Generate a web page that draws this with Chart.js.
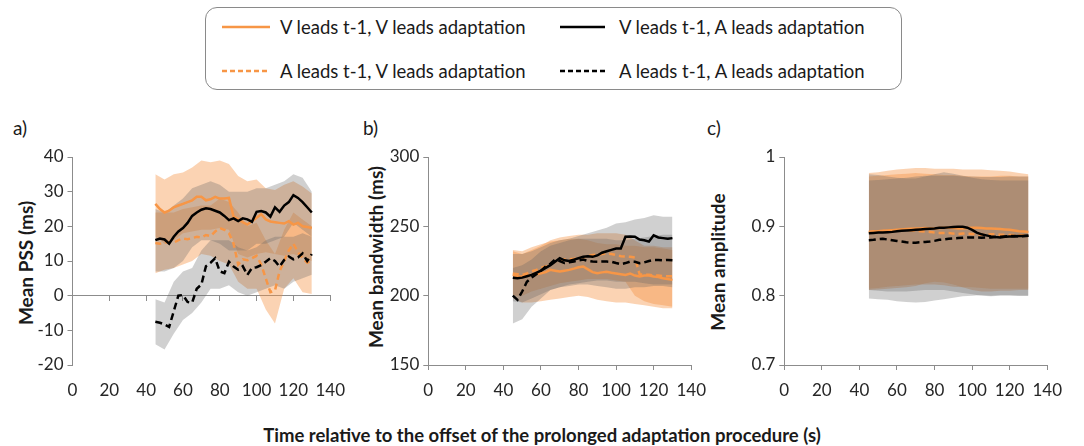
<!DOCTYPE html>
<html><head><meta charset="utf-8">
<script src="https://cdn.jsdelivr.net/npm/chart.js@4.4.1/dist/chart.umd.min.js"></script>
<style>
html,body{margin:0;padding:0;background:#fff;}
body{width:1084px;height:446px;position:relative;overflow:hidden;font-family:Lato,"Open Sans",sans-serif;color:#1a1a1a;}
canvas{position:absolute;}
.plab{position:absolute;font-size:19px;line-height:20px;}
.ytitle{position:absolute;font-weight:bold;font-size:19px;white-space:nowrap;transform:translate(-50%,-50%) rotate(-90deg);}
.xtitle{position:absolute;left:0;width:1084px;text-align:center;font-weight:bold;font-size:18.5px;top:424px;}
.legbox{position:absolute;left:205px;top:7px;width:695px;height:81px;border:1px solid #8a8a8a;border-radius:12px;}
.legtxt{position:absolute;font-size:18.5px;line-height:22px;white-space:nowrap;}
.legsvg{position:absolute;}
</style>
</head><body>
<div class="legbox"></div>
<svg class="legsvg" style="left:0;top:0" width="1084" height="100" id="legsvg"></svg>
<div class="legtxt" id="lt0" style="left:280px;top:16px"></div>
<div class="legtxt" id="lt1" style="left:619px;top:16px"></div>
<div class="legtxt" id="lt2" style="left:280px;top:60px"></div>
<div class="legtxt" id="lt3" style="left:619px;top:60px"></div>

<div class="plab" style="left:13px;top:118px">a)</div>
<div class="plab" style="left:363px;top:118px">b)</div>
<div class="plab" style="left:707px;top:118px">c)</div>

<div class="ytitle" style="left:25px;top:263px">Mean PSS (ms)</div>
<div class="ytitle" style="left:375px;top:257px">Mean bandwidth (ms)</div>
<div class="ytitle" style="left:717px;top:262px">Mean amplitude</div>
<div class="xtitle">Time relative to the offset of the prolonged adaptation procedure (s)</div>

<canvas id="ca" width="360" height="262" style="left:0;top:140px"></canvas>
<canvas id="cb" width="366" height="262" style="left:350px;top:140px"></canvas>
<canvas id="cc" width="366" height="262" style="left:706px;top:140px"></canvas>

<script>
// ---- series names ----
const seriesNames = [
  "V leads t-1, V leads adaptation",
  "V leads t-1, A leads adaptation",
  "A leads t-1, V leads adaptation",
  "A leads t-1, A leads adaptation"
];
// ---- x positions (s) ----
const tMean = [45,47.5,50,52.5,55,57.5,60,62.5,65,67.5,70,72.5,75,77.5,80,82.5,85,87.5,90,92.5,95,97.5,100,102.5,105,107.5,110,112.5,115,117.5,120,122.5,125,127.5,130];
const tBand = [45,50,55,60,65,70,75,80,85,90,95,100,105,110,115,120,125,130];
const xTicks = [0,20,40,60,80,100,120,140];

// ---- panel a: Mean PSS (ms) ----
const aVV = [26.5,25,24,24.5,25.5,26,26.5,27,27.5,28.5,28.5,27.5,27.8,28.5,28,28,28.2,22.8,22,21.2,20.5,21.5,22.5,23.5,22,21.4,21.2,21,20.8,21.5,20.5,21,20,19.8,19.5];
const aVA = [16,16.5,16.2,15,17,18.5,19.5,21,23,24,24.8,25.2,25,24.5,24,23,21.8,22.3,21.5,22.3,22,21.3,24.2,24.4,24,22.8,25.5,24.2,26,27,29,28.2,27,25.5,24];
const aAV = [15.2,15,15.3,15.5,15.3,16,16.5,16.3,16.6,17,16.8,17.5,17.2,18.5,19.5,19,18,15,9,10.5,10.2,10.8,11.5,9,5,1,1.5,7,10,13,15,12.5,10.8,9.5,10.3];
const aAA = [-7.5,-7.8,-8.3,-9,-4.5,0,0.2,-1.8,-2,2,3.2,8.5,9.5,10.8,7,6.5,9.8,8.4,7.5,8.5,6,8,8.2,8.8,9.8,10.8,10,8.4,10.3,11.3,10.5,11,12.2,10,12];
const aVV_hi = [35,33.5,35,35.5,37,39,38.5,39,38,34.5,33,33.5,31,30.5,32,33,31.5,29.5];
const aVV_lo = [17,15,16,18,18.5,19,19,19.5,19,12,11,12,12.5,12,11.5,12,11,10];
const aAV_hi = [24,24,24,25,25.5,26,26,28,27,24,20,21,16,12,19,24,22,20];
const aAV_lo = [6.5,7.5,8,9,10,12,11.5,10,9,4,2,2,-4,-8,2,5,1,0.5];
const aVA_hi = [25,24,26,28,31,32,33,32,30,30,30,31,31,32,33,35,34,30];
const aVA_lo = [7,7,8,10,14,16,16,15,13,13,13,15,15,16,17,21,19,17];
const aAA_hi = [-1,-2,4,7,8,13,16,16,16,14,13,14,16,17,17,17,18,17];
const aAA_lo = [-14,-15.5,-11,-7,-5,-2,2,2,3,1,0,1,2,3,2,4,5,6];
const aYTicks = [-20,-10,0,10,20,30,40];

// ---- panel b: Mean bandwidth (ms) ----
const bVV = [215,213.8,214,214.5,215,215.5,216.2,217,218.6,218,217.4,218,218.6,219.5,220.5,221,219,217,216.2,216.8,217.2,216.5,216,215.5,215,216,214.5,213.8,214.5,214.5,213.8,213.5,212.6,212,211.4];
const bVA = [213,212.5,213,214,215,216.5,218,220,222,224.5,227,225.5,225,226,227,228,228.5,228,229,231,232,233,234,234,242.5,242.7,242.5,240.5,240,239,243.5,242,241.5,241,241.5];
const bAV = [216,215.5,215,216,217.5,218.6,220,221,223,224.6,225.5,226,226.3,226.6,227,227.5,228.5,229.4,229.5,230,230.6,230,229.4,228.5,228.2,228,227.5,215.5,215,215,214.5,214.5,214,214,214];
const bAA = [200,197,203,210,213,215.5,218,221,223,226,225,223.5,224,224.6,225.5,226,225,224.6,224.5,224.6,224.6,224.4,223.5,222.7,223.5,224.6,224.5,223.4,224,225,225.8,225.8,225.5,225.8,225.6];
const bVV_hi = [233,232,235,237,239,240,241,241,240,238,237,237,236,236,235,235,234,233];
const bVV_lo = [198,195,195,196,197,198,199,200,199,197,196,195,195,194,193,192,191,191];
const bAV_hi = [232,230,233,236,240,242,243,244,244,245,245,245,244,240,236,236,235,235];
const bAV_lo = [200,200,203,205,207,209,210,211,212,212,212,211,210,200,196,194,193,192];
const bVA_hi = [230,230,232,235,238,240,241,243,245,247,249,252,253,255,256,258,257,257];
const bVA_lo = [196,195,198,201,204,206,208,209,210,211,211,210,210,210,209,208,208,208];
const bAA_hi = [220,222,226,232,236,238,240,241,241,241,241,240,240,241,242,243,244,244];
const bAA_lo = [180,183,192,198,204,206,207,208,208,207,206,205,205,206,206,207,207,206];
const bYTicks = [150,200,250,300];

// ---- panel c: Mean amplitude ----
const cVV = [0.892,0.8925,0.893,0.8935,0.894,0.8945,0.895,0.8955,0.896,0.8965,0.897,0.897,0.8975,0.897,0.897,0.8975,0.898,0.898,0.8975,0.897,0.897,0.8975,0.898,0.898,0.8975,0.897,0.897,0.8965,0.896,0.8955,0.895,0.894,0.893,0.8925,0.892];
const cVA = [0.890,0.8905,0.891,0.891,0.8915,0.892,0.893,0.8935,0.894,0.8945,0.895,0.8955,0.896,0.8965,0.897,0.898,0.898,0.8985,0.899,0.8995,0.8995,0.898,0.895,0.891,0.8885,0.887,0.8855,0.8845,0.884,0.885,0.8855,0.8855,0.886,0.886,0.8865];
const cAV = [0.892,0.8925,0.893,0.893,0.8935,0.894,0.8945,0.895,0.8945,0.894,0.8935,0.893,0.8925,0.892,0.891,0.8905,0.8905,0.8905,0.8895,0.889,0.8895,0.8895,0.889,0.8885,0.888,0.888,0.8885,0.8885,0.888,0.888,0.8875,0.8875,0.887,0.887,0.8875];
const cAA = [0.880,0.8805,0.8815,0.882,0.881,0.880,0.879,0.878,0.877,0.8765,0.8765,0.877,0.8775,0.878,0.879,0.8805,0.881,0.882,0.8825,0.883,0.8835,0.884,0.884,0.884,0.8835,0.884,0.884,0.8845,0.885,0.8855,0.886,0.886,0.8855,0.886,0.8865];
const cVV_hi = [0.977,0.978,0.980,0.982,0.983,0.984,0.984,0.983,0.983,0.983,0.982,0.982,0.982,0.981,0.980,0.979,0.977,0.975];
const cVV_lo = [0.810,0.811,0.813,0.814,0.815,0.816,0.816,0.816,0.815,0.813,0.812,0.812,0.811,0.810,0.810,0.810,0.810,0.810];
const cAV_hi = [0.972,0.973,0.974,0.975,0.976,0.977,0.976,0.975,0.974,0.974,0.973,0.972,0.972,0.972,0.973,0.973,0.972,0.972];
const cAV_lo = [0.808,0.809,0.810,0.811,0.812,0.814,0.818,0.820,0.819,0.816,0.812,0.808,0.806,0.806,0.807,0.807,0.808,0.808];
const cVA_hi = [0.966,0.967,0.968,0.969,0.970,0.972,0.973,0.973,0.973,0.973,0.972,0.972,0.971,0.971,0.971,0.972,0.972,0.972];
const cVA_lo = [0.808,0.807,0.806,0.806,0.806,0.807,0.808,0.808,0.808,0.806,0.804,0.802,0.800,0.799,0.800,0.800,0.800,0.800];
const cAA_hi = [0.975,0.974,0.972,0.970,0.969,0.969,0.972,0.975,0.978,0.976,0.973,0.970,0.968,0.967,0.966,0.966,0.966,0.966];
const cAA_lo = [0.796,0.795,0.794,0.792,0.791,0.790,0.791,0.793,0.795,0.797,0.799,0.800,0.801,0.800,0.801,0.801,0.800,0.800];
const cYTicks = [0.7,0.8,0.9,1];

// ---- styles ----
const ORANGE = '#F79646';
const BLACK = '#000000';
const ORANGE_BAND = 'rgba(245,145,65,0.40)';
const GRAY_BAND = 'rgba(100,100,100,0.30)';
const AXIS = '#8c8c8c';
const TICKFONT = {family: 'Lato', size: 17};
const TICKCOL = '#262626';
const lineStyles = [
  {color: ORANGE, dash: [], band: ORANGE_BAND, lineOrder: 1, bandOrder: 4},
  {color: BLACK, dash: [], band: GRAY_BAND, lineOrder: 0, bandOrder: 3},
  {color: ORANGE, dash: [6,4], band: ORANGE_BAND, lineOrder: 1, bandOrder: 4},
  {color: BLACK, dash: [7,4], band: GRAY_BAND, lineOrder: 0, bandOrder: 3}
];
const fmtTick = v => String(Math.round(v * 1000) / 1000);

// ---- legend ----
(function(){
  const svg = document.getElementById('legsvg');
  const pos = [[222,270,27],[560,605,27],[222,270,71],[560,605,71]];
  let s = '';
  pos.forEach((p,i)=>{
    const st = lineStyles[i];
    s += `<line x1="${p[0]}" x2="${p[1]}" y1="${p[2]}" y2="${p[2]}" stroke="${st.color}" stroke-width="2.5" ${st.dash.length? 'stroke-dasharray="5 3"':''}/>`;
    document.getElementById('lt'+i).textContent = seriesNames[i];
  });
  svg.innerHTML = s;
})();

function pts(xs, ys){ return xs.map((x,i)=>({x:x, y:ys[i]})); }

function buildDatasets(means, his, los){
  const ds = [];
  for (let i=0;i<4;i++){
    const st = lineStyles[i];
    ds.push({label: seriesNames[i]+' upper', data: pts(tBand, his[i]), fill: '+1', backgroundColor: st.band, borderWidth: 0, pointRadius: 0, order: st.bandOrder});
    ds.push({label: seriesNames[i]+' lower', data: pts(tBand, los[i]), fill: false, borderWidth: 0, pointRadius: 0, order: st.bandOrder});
  }
  for (let i=0;i<4;i++){
    const st = lineStyles[i];
    ds.push({label: seriesNames[i], data: pts(tMean, means[i]), fill: false, borderColor: st.color, borderWidth: 2.5, borderDash: st.dash, pointRadius: 0, tension: 0, order: st.lineOrder});
  }
  return ds;
}

function makeChart(id, yTicks, means, his, los, yWidth, zeroAxis){
  const yMin = yTicks[0], yMax = yTicks[yTicks.length-1];
  const scales = {
    y: {type:'linear', min:yMin, max:yMax,
        afterBuildTicks: s => { s.ticks = yTicks.map(v=>({value:v})); },
        ticks:{font:TICKFONT, color:TICKCOL, padding:4, callback: fmtTick},
        grid:{display:true, drawOnChartArea:false, drawTicks:true, tickLength:5, color:AXIS},
        border:{display:true, color:AXIS, width:1},
        afterFit: s => { s.width = yWidth; }}
  };
  if (zeroAxis){
    scales.x = {type:'linear', axis:'x', min:0, max:140, position:{y:0},
        afterBuildTicks: s => { s.ticks = xTicks.map(v=>({value:v})); },
        ticks:{display:false},
        grid:{display:true, drawOnChartArea:false, drawTicks:true, tickLength:5, color:AXIS},
        border:{display:true, color:AXIS, width:1}};
    scales.x2 = {type:'linear', axis:'x', min:0, max:140, position:'bottom',
        afterBuildTicks: s => { s.ticks = xTicks.map(v=>({value:v})); },
        ticks:{font:TICKFONT, color:TICKCOL, padding:15, maxRotation:0, callback: fmtTick},
        grid:{display:false, drawTicks:false},
        border:{display:false},
        afterFit: s => { s.height = 37; }};
  } else {
    scales.x = {type:'linear', min:0, max:140, position:'bottom',
        afterBuildTicks: s => { s.ticks = xTicks.map(v=>({value:v})); },
        ticks:{font:TICKFONT, color:TICKCOL, padding:10, maxRotation:0, callback: fmtTick},
        grid:{display:true, drawOnChartArea:false, drawTicks:true, tickLength:5, color:AXIS},
        border:{display:true, color:AXIS, width:1},
        afterFit: s => { s.height = 37; }};
  }
  return new Chart(document.getElementById(id), {
    type:'line',
    data:{datasets: buildDatasets(means, his, los)},
    options:{
      responsive:false, animation:false, events:[],
      layout:{padding:{left:0, top:17, right:18, bottom:0}},
      plugins:{legend:{display:false}, tooltip:{enabled:false}, filler:{propagate:false}},
      scales: scales
    }
  });
}

makeChart('ca', aYTicks, [aVV,aVA,aAV,aAA], [aVV_hi,aVA_hi,aAV_hi,aAA_hi], [aVV_lo,aVA_lo,aAV_lo,aAA_lo], 72.5, true);
makeChart('cb', bYTicks, [bVV,bVA,bAV,bAA], [bVV_hi,bVA_hi,bAV_hi,bAA_hi], [bVV_lo,bVA_lo,bAV_lo,bAA_lo], 78.3, false);
makeChart('cc', cYTicks, [cVV,cVA,cAV,cAA], [cVV_hi,cVA_hi,cAV_hi,cAA_hi], [cVV_lo,cVA_lo,cAV_lo,cAA_lo], 78.3, false);
</script>
</body></html>
